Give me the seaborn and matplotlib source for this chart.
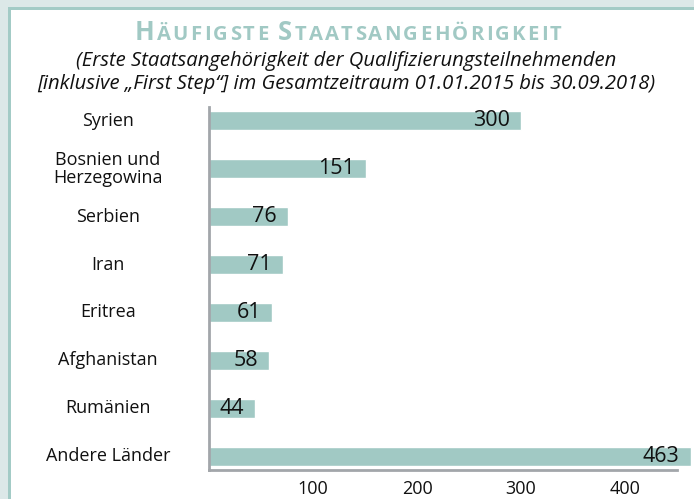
import matplotlib
matplotlib.use("Agg")
import matplotlib.pyplot as plt
import matplotlib.transforms as mtrans
import seaborn as sns
import pandas as pd
from matplotlib.patches import Rectangle

categories = ["Syrien", "Bosnien und\nHerzegowina", "Serbien", "Iran", "Eritrea",
              "Afghanistan", "Rumänien", "Andere Länder"]
values = [300, 151, 76, 71, 61, 58, 44, 463]
xticks = [100, 200, 300, 400]
title_words = [[("H", True), ("ÄUFIGSTE", False)], [("S", True), ("TAATSANGEHÖRIGKEIT", False)]]
subtitle_lines = ["(Erste Staatsangehörigkeit der Qualifizierungsteilnehmenden",
                  "[inklusive „First Step“] im Gesamtzeitraum 01.01.2015 bis 30.09.2018)"]

df = pd.DataFrame({"cat": categories, "val": values})

sns.set_theme(style="white")
plt.rcParams["font.family"] = ["Open Sans", "DejaVu Sans"]

W, H = 694, 499
fig = plt.figure(figsize=(W / 100, H / 100), dpi=100)
fig.patch.set_facecolor("#dce8e8")
# white panel with teal border (left and top)
fig.patches.append(Rectangle((8 / W, 0), 1, 1 - 7 / H, transform=fig.transFigure,
                             facecolor="#a3cbc6", edgecolor="none", zorder=-20))
fig.patches.append(Rectangle((11 / W, 0), 1, 1 - 10 / H, transform=fig.transFigure,
                             facecolor="white", edgecolor="none", zorder=-10))

left, right = 209 / W, 677 / W
bottom, top = 1 - 470 / H, 1 - 107 / H
ax = fig.add_axes([left, bottom, right - left, top - bottom])
ax.set_facecolor("none")
ax.set_zorder(5)

bar_color = "#a1c9c4"
sns.barplot(data=df, x="val", y="cat", orient="h", color=bar_color, width=0.4,
            saturation=1, ax=ax)
for p in ax.patches:
    p.set_clip_on(False)

axis_color = "#a2a6aa"
for s in ["top", "right"]:
    ax.spines[s].set_visible(False)
for s in ["left", "bottom"]:
    ax.spines[s].set_color(axis_color)
    ax.spines[s].set_linewidth(2)

ax.set_xticks(range(50, 451, 50))
ax.set_xticklabels([str(t) if t in xticks else "" for t in range(50, 451, 50)])
ax.set_yticks([i + 0.5 for i in range(0, 7)])
ax.set_yticklabels([])
ax.tick_params(axis="x", direction="in", length=4, width=1.5, color=axis_color,
               labelsize=13, pad=7, labelcolor="#111111")
ax.tick_params(axis="y", direction="in", length=3, width=1.5, color=axis_color)

ax.set_xlim(0, 450)
ax.set_ylim(7.29, -0.29)
ax.set_xlabel("")
ax.set_ylabel("")

for i, v in enumerate(values):
    ax.annotate(str(v), (v, i), xytext=(-8, 0), textcoords="offset points",
                ha="right", va="center", fontsize=15.5, color="#111111",
                annotation_clip=False)

lab_tr = mtrans.blended_transform_factory(
    mtrans.offset_copy(ax.transAxes, fig=fig, x=-101, y=0, units="dots"), ax.transData)
for i, c in enumerate(categories):
    ax.text(0, i, c, transform=lab_tr, ha="center", va="center", fontsize=13,
            color="#111111", linespacing=1.0)

# small-caps title with letter tracking
title_color = "#a1c9c4"
renderer = fig.canvas.get_renderer()
baseline = 1 - 40 / H
word_chars = []
for word in title_words:
    chars = []
    for s, big in word:
        for ch in s:
            t = fig.text(0, baseline, ch, fontsize=18.5 if big else 14.6, fontweight="bold",
                         color=title_color, ha="left", va="baseline")
            chars.append((t, t.get_window_extent(renderer).width))
    word_chars.append(chars)
word_gap = 10
target_w = 427
n_gaps = sum(len(c) - 1 for c in word_chars)
natural = sum(w for c in word_chars for _, w in c) + word_gap
track = max(0.0, (target_w - natural) / n_gaps)
total = natural + track * n_gaps
x = 348 - total / 2
for k, chars in enumerate(word_chars):
    for j, (t, w) in enumerate(chars):
        t.set_x(x / W)
        x += w + (track if j < len(chars) - 1 else 0)
    x += word_gap

for yy, line in zip([61, 84], subtitle_lines):
    fig.text(346 / W, 1 - yy / H, line, ha="center", va="center", fontsize=14.6,
             style="italic", color="#111111")

fig.savefig("out.png", dpi=100, facecolor=fig.get_facecolor())
